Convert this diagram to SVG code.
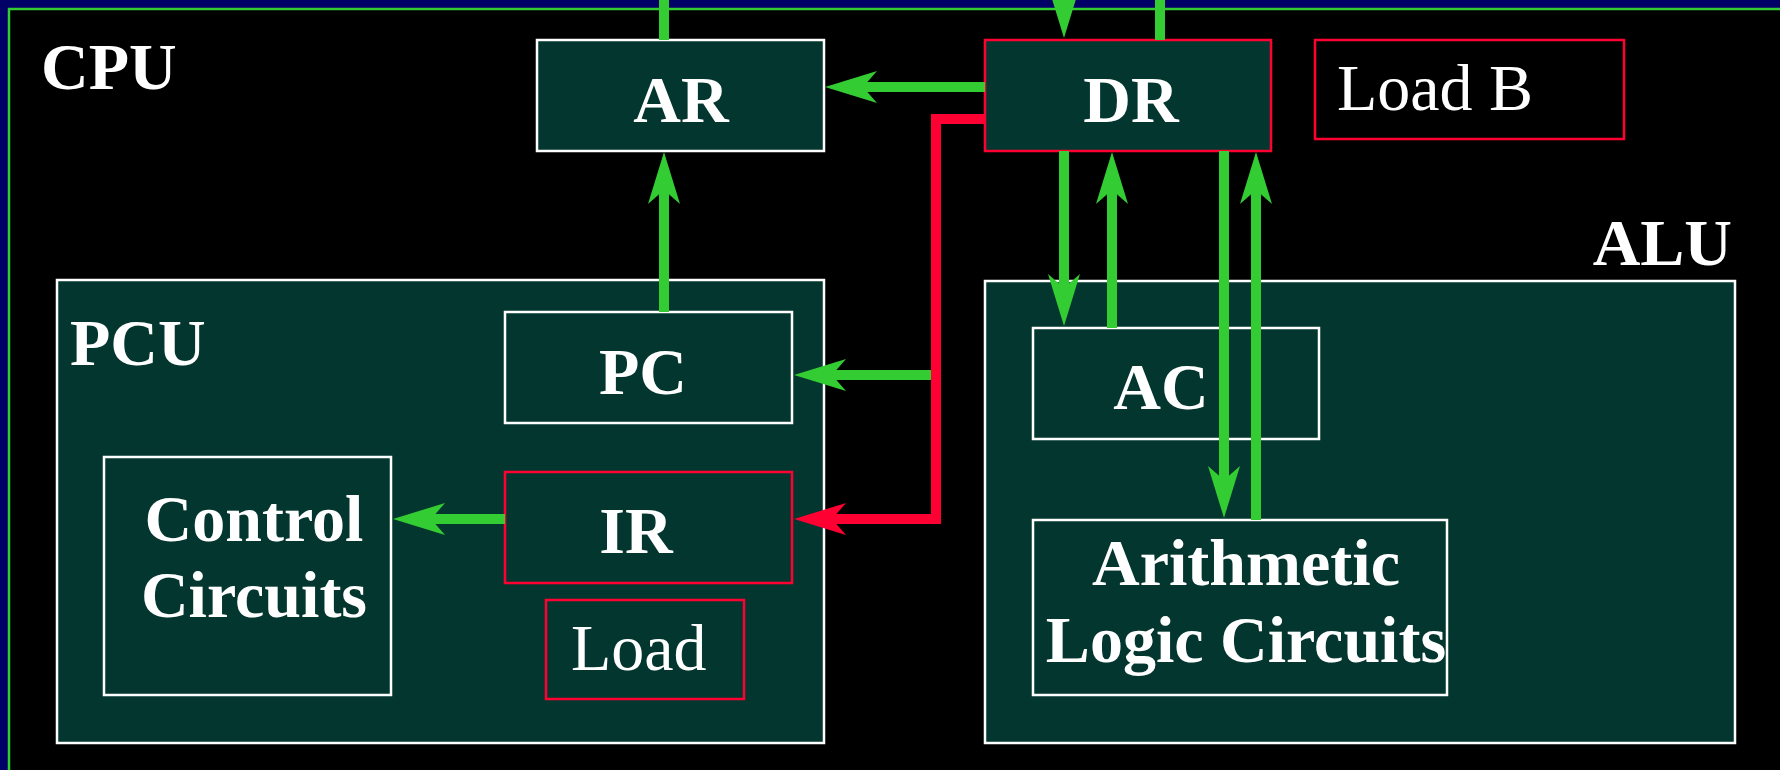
<svg xmlns="http://www.w3.org/2000/svg" width="1780" height="770" viewBox="0 0 1780 770">
  <style>
    .unit { fill: #03362F; stroke: #FFFFFF; stroke-width: 2.5; }
    .reg { fill: #03362F; stroke: #FFFFFF; stroke-width: 2.5; }
    .hot { fill: #03362F; stroke: #FF0033; stroke-width: 2.5; }
    .sig { fill: none; stroke: #FF0033; stroke-width: 2.5; }
    .lbl { font-family: "Liberation Serif", "Times New Roman", serif; font-weight: bold; font-size: 66px; fill: #FFFFFF; }
    .plain { font-family: "Liberation Serif", "Times New Roman", serif; font-weight: normal; font-size: 66px; fill: #FFFFFF; }
    .mid { text-anchor: middle; }
    .bus { fill: none; stroke: #33CC33; stroke-width: 10; stroke-linejoin: miter; }
    .busr { fill: none; stroke: #FF0033; stroke-width: 10; stroke-linejoin: miter; }
  </style>
  <defs>
    <!-- swallow-tail arrowhead; the line ends at the notch -->
    <marker id="ag" markerUnits="userSpaceOnUse" markerWidth="52" markerHeight="32" refX="14" refY="16" orient="auto" overflow="visible">
      <path d="M0,0 L52,16 L0,32 L14,16 Z" fill="#33CC33"/>
    </marker>
    <marker id="ar" markerUnits="userSpaceOnUse" markerWidth="52" markerHeight="32" refX="14" refY="16" orient="auto" overflow="visible">
      <path d="M0,0 L52,16 L0,32 L14,16 Z" fill="#FF0033"/>
    </marker>
  </defs>

  <!-- backdrop and CPU frame -->
  <rect x="0" y="0" width="1780" height="770" fill="#000066"/>
  <g id="cpu">
    <rect x="9" y="9" width="1800" height="800" fill="#000000" stroke="#33CC33" stroke-width="2.5"/>
    <text class="lbl" x="41" y="89">CPU</text>
  </g>

  <!-- functional units -->
  <g id="pcu">
    <rect class="unit" x="57" y="280" width="767" height="463"/>
    <text class="lbl" x="70" y="365">PCU</text>
  </g>
  <g id="alu">
    <rect class="unit" x="985" y="281" width="750" height="462"/>
    <text class="lbl" x="1732" y="265" text-anchor="end">ALU</text>
  </g>

  <!-- registers -->
  <g id="ar-reg">
    <rect class="reg" x="537" y="40" width="287" height="111"/>
    <text class="lbl mid" x="681" y="122">AR</text>
  </g>
  <g id="dr-reg">
    <rect class="hot" x="985" y="40" width="286" height="111"/>
    <text class="lbl mid" x="1131" y="122">DR</text>
  </g>
  <g id="load-b">
    <rect class="sig" x="1315" y="40" width="309" height="99"/>
    <text class="plain" x="1337" y="110">Load B</text>
  </g>
  <g id="pc-reg">
    <rect class="reg" x="505" y="312" width="287" height="111"/>
    <text class="lbl mid" x="643" y="394">PC</text>
  </g>
  <g id="ir-reg">
    <rect class="hot" x="505" y="472" width="287" height="111"/>
    <text class="lbl mid" x="636" y="553">IR</text>
  </g>
  <g id="load">
    <rect class="hot" x="546" y="600" width="198" height="99"/>
    <text class="plain" x="571" y="670">Load</text>
  </g>
  <g id="control">
    <rect class="reg" x="104" y="457" width="287" height="238"/>
    <text class="lbl mid" x="254" y="541">Control</text>
    <text class="lbl mid" x="254" y="617">Circuits</text>
  </g>
  <g id="ac-reg">
    <rect class="reg" x="1033" y="328" width="286" height="111"/>
    <text class="lbl mid" x="1161" y="409">AC</text>
  </g>
  <g id="alc">
    <rect class="reg" x="1033" y="520" width="414" height="175"/>
    <text class="lbl mid" x="1246" y="585">Arithmetic</text>
    <text class="lbl mid" x="1246" y="662">Logic Circuits</text>
  </g>

  <!-- data paths -->
  <g id="connectors">
    <line class="bus" x1="664" y1="0" x2="664" y2="40"/>
    <line class="bus" x1="1160" y1="0" x2="1160" y2="40"/>
    <line class="bus" x1="664" y1="312" x2="664" y2="190" marker-end="url(#ag)"/>
    <line class="bus" x1="985" y1="87" x2="863" y2="87" marker-end="url(#ag)"/>
    <line class="bus" x1="1064" y1="-30" x2="1064" y2="0" marker-end="url(#ag)"/>
    <line class="bus" x1="1064" y1="151" x2="1064" y2="288" marker-end="url(#ag)"/>
    <line class="bus" x1="1112" y1="328" x2="1112" y2="190" marker-end="url(#ag)"/>
    <line class="bus" x1="1224" y1="151" x2="1224" y2="480" marker-end="url(#ag)"/>
    <line class="bus" x1="1256" y1="520" x2="1256" y2="190" marker-end="url(#ag)"/>
    <line class="bus" x1="936" y1="375" x2="832" y2="375" marker-end="url(#ag)"/>
    <line class="bus" x1="505" y1="519" x2="431" y2="519" marker-end="url(#ag)"/>
    <polyline class="busr" points="985,119 936,119 936,519 832,519" marker-end="url(#ar)"/>
  </g>
</svg>
